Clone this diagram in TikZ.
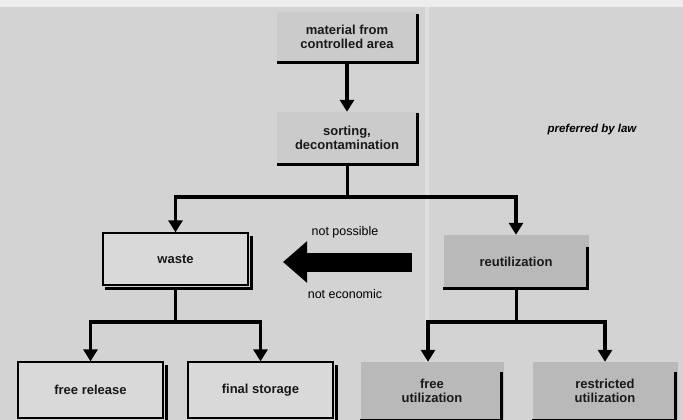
\documentclass[tikz,border=0pt]{standalone}
\usepackage{fontspec}
\setmainfont{Liberation Sans}
\usetikzlibrary{arrows.meta,calc}
\definecolor{bg}{HTML}{D3D3D3}
\definecolor{stripe}{HTML}{DFDFDF}
\definecolor{boxA}{HTML}{CBCBCB}
\definecolor{boxW}{HTML}{D9D9D9}
\definecolor{boxD}{HTML}{B9B9B9}
\begin{document}
\begin{tikzpicture}[x=1pt,y=-1pt,
  lbl/.style={font=\bfseries\fontsize{13}{14.5}\selectfont, align=center, inner sep=0pt, text=black!90},
  lbox/.style={lbl, minimum width=140pt, minimum height=50pt, fill=#1},
  sbox/.style={lbl, minimum width=145pt, minimum height=52pt, fill=boxW, draw=black, line width=1.3pt},
  heavy/.style={line width=3pt},
  flow/.style={line width=3.8pt, -{Triangle[width=14pt,length=12pt]}},
  note/.style={font=\fontsize{12.5}{14}\selectfont, inner sep=0pt}
]
\useasboundingbox (0,0) rectangle (683,420);
\fill[bg] (0,0) rectangle (683,420);
\fill[stripe] (425,0) rectangle (429,420);
\fill[white!60!bg] (0,0) rectangle (683,7);

% nodes
\node[lbox=boxA] (mat) at (347,37) {material from\\controlled area};
\node[lbox=boxA, minimum height=52pt] (sort) at (347,138) {sorting,\\decontamination};
\node[sbox] (waste) at (175.5,259) {waste};
\node[lbox=boxD, minimum width=145pt, minimum height=53pt] (reut) at (516,261.5) {reutilization};
\node[sbox, minimum height=56pt] (fr) at (90.5,390) {free release};
\node[sbox, minimum height=56pt] (fs) at (260.5,390) {final storage};
\node[lbox=boxD, minimum width=143pt, minimum height=58pt] (fu) at (432,391) {free\\utilization};
\node[lbox=boxD, minimum width=145pt, minimum height=58pt] (ru) at (605,391) {restricted\\utilization};
\node[note, font=\itshape\bfseries\fontsize{11.5}{13}\selectfont] (law) at (592,130) {preferred by law};
\node[note] (np) at (345,232) {not possible};
\node[note] (ne) at (345,294) {not economic};

% L-shaped frames
\draw[heavy] ($(mat.north east)+(0,2)$) -- (mat.south east) -- (mat.south west);
\draw[heavy] ($(sort.north east)+(0,1)$) -- (sort.south east) -- (sort.south west);
\draw[heavy] ($(reut.north east)+(-1,12)$) -- ($(reut.south east)+(-1,0)$) -- (reut.south west);
\draw[heavy] ($(fu.north east)+(-2,10)$) -- ($(fu.south east)+(-2,0)$) -- (fu.south west);
\draw[heavy] ($(ru.north east)+(-2,10)$) -- ($(ru.south east)+(-2,0)$) -- (ru.south west);

% shadows
\foreach \b in {waste,fr,fs}{
  \draw[heavy] ($(\b.north east)+(3,4)$) -- ($(\b.south east)+(3,3)$) -- ($(\b.south west)+(3,3)$);
}

% connectors
\draw[flow] (mat.south) -- (sort.north);
\coordinate (j1) at (sort.south |- 0,197);
\draw[heavy] (sort.south) -- (j1);
\draw[flow] (j1) -| (waste.north);
\draw[flow] (j1) -| (reut.north);

\coordinate (j2) at ($(waste.south)+(0,3)$);
\coordinate (j3) at (waste.south |- 0,322);
\draw[heavy] (j2) -- (j3);
\draw[flow] (j3) -| (fr.north);
\draw[flow] (j3) -| (fs.north);

\coordinate (j4) at (reut.south |- 0,322);
\draw[heavy] (reut.south) -- (j4);
\draw[flow] (j4) -| ($(fu.north)+(-4,0)$);
\draw[flow] (j4) -| (ru.north);

% big arrow
\coordinate (ba) at (412,262);
\coordinate (bb) at (283,262);
\draw[line width=19pt, -{Triangle[width=40pt,length=24pt]}] (ba) -- (bb);
\end{tikzpicture}
\end{document}
